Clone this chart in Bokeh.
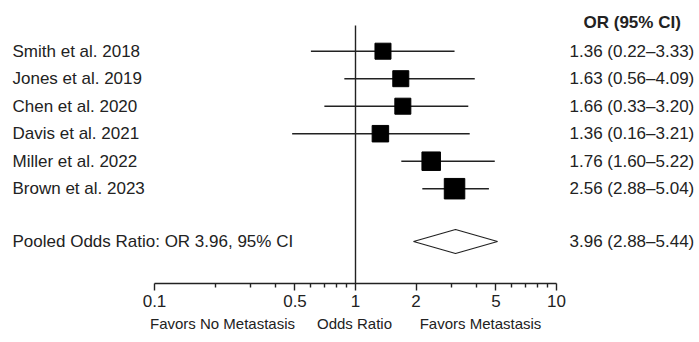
from bokeh.plotting import figure
from bokeh.models import (Range1d, FixedTicker, CustomJSTickFormatter, ColumnDataSource,
                          LogAxis)
from bokeh.embed import file_html
from bokeh.resources import INLINE
from bokeh.core.properties import value

# ---- data ----
studies = ["Smith et al. 2018", "Jones et al. 2019", "Chen et al. 2020",
           "Davis et al. 2021", "Miller et al. 2022", "Brown et al. 2023"]
or_est = [1.37, 1.68, 1.72, 1.33, 2.38, 3.11]
ci_low = [0.60, 0.88, 0.70, 0.484, 1.69, 2.15]
ci_high = [3.11, 3.92, 3.64, 3.70, 4.93, 4.61]
weights = [16, 16, 16, 16.5, 18.5, 20.5]
or_text = ["1.36 (0.22\u20133.33)", "1.63 (0.56\u20134.09)", "1.66 (0.33\u20133.20)",
           "1.36 (0.16\u20133.21)", "1.76 (1.60\u20135.22)", "2.56 (2.88\u20135.04)"]
pooled_label = "Pooled Odds Ratio: OR 3.96, 95% CI"
pooled_est = 3.145
pooled_low = 1.944
pooled_high = 5.09
pooled_text = "3.96 (2.88\u20135.44)"
header_text = "OR (95% CI)"
major_ticks = [0.1, 0.5, 1, 2, 5, 10]
minor_ticks = [0.2, 0.3, 0.4, 0.6, 0.7, 0.8, 0.9, 3, 4, 6, 7, 8, 9]
note_labels = ["Favors No Metastasis", "Odds Ratio", "Favors Metastasis"]

# ---- layout ----
W, H = 699, 342
AXIS_Y = 283      # px of the axis line
PITCH = 27.5      # px between rows
ROW0 = 50.7       # px of first row
DEC = 201.0       # px per decade
ONE_PX = 355.0    # px of OR = 1
y_top = -ROW0 / PITCH
y_bot = y_top + AXIS_Y / PITCH


def px_to_or(px):
    return 10 ** ((px - ONE_PX) / DEC)


def px_to_row(py):
    return (py - ROW0) / PITCH


rows = list(range(len(studies)))
pooled_row = px_to_row(241)
header_row = px_to_row(22)
FONT = value("Liberation Sans")
INK = "#222222"

p = figure(width=W, height=H, x_axis_type="log",
           x_range=Range1d(px_to_or(0), px_to_or(W)),
           y_range=Range1d(y_bot, y_top),
           y_axis_location=None, toolbar_location=None,
           output_backend="svg", min_border=0, min_border_bottom=H - AXIS_Y)
p.outline_line_color = None
p.xgrid.visible = False
p.ygrid.visible = False
p.background_fill_color = "white"
p.border_fill_color = "white"

# reference line at OR = 1
p.segment(x0=[1], y0=[px_to_row(25)], x1=[1], y1=[y_bot], line_color=INK, line_width=1.4)

src = ColumnDataSource(dict(study=studies, est=or_est, lo=ci_low, hi=ci_high,
                            w=weights, txt=or_text, y=rows))
p.segment(x0="lo", y0="y", x1="hi", y1="y", source=src, line_color=INK, line_width=1.6)
p.scatter(x="est", y="y", size="w", marker="square", source=src,
          fill_color="black", line_color="black")

# pooled diamond
h = 12 / PITCH
p.patch(x=[pooled_low, pooled_est, pooled_high, pooled_est],
        y=[pooled_row, pooled_row - h, pooled_row, pooled_row + h],
        fill_color="white", line_color=INK, line_width=1.2)

# texts
lx = px_to_or(12)
vx = px_to_or(569)
hx = px_to_or(583)
p.text(x=[lx] * len(studies), y=rows, text=studies, text_font=FONT,
       text_font_size="17px", text_color=INK, text_baseline="middle")
p.text(x=[vx] * len(studies), y=rows, text=or_text, text_font=FONT,
       text_font_size="17px", text_color=INK, text_baseline="middle")
p.text(x=[hx], y=[header_row], text=[header_text], text_font=FONT,
       text_font_size="17px", text_font_style="bold", text_color=INK,
       text_baseline="middle")
p.text(x=[lx], y=[pooled_row], text=[pooled_label], text_font=FONT,
       text_font_size="17px", text_color=INK, text_baseline="middle")
p.text(x=[vx], y=[pooled_row], text=[pooled_text], text_font=FONT,
       text_font_size="17px", text_color=INK, text_baseline="middle")

# main axis
ax = p.xaxis[0]
ax.ticker = FixedTicker(ticks=major_ticks, minor_ticks=minor_ticks)
ax.formatter = CustomJSTickFormatter(code="return String(tick);")
ax.bounds = (0.1, 10)
ax.axis_line_color = INK
ax.axis_line_width = 1.4
ax.major_tick_line_color = INK
ax.major_tick_line_width = 1.4
ax.minor_tick_line_color = INK
ax.minor_tick_line_width = 1.4
ax.major_tick_in = 0
ax.major_tick_out = 7
ax.minor_tick_in = 0
ax.minor_tick_out = 4
ax.major_label_text_font = "Liberation Sans"
ax.major_label_text_font_size = "17px"
ax.major_label_text_color = INK
ax.major_label_standoff = 4

# second axis carrying the caption texts
note_pos = [px_to_or(222), px_to_or(354), px_to_or(480)]
ax2 = LogAxis(ticker=FixedTicker(ticks=note_pos, minor_ticks=[]),
              formatter=CustomJSTickFormatter(
                  args=dict(pos=note_pos, lab=note_labels),
                  code="const i = pos.findIndex(v => Math.abs(Math.log(v) - Math.log(tick)) < 1e-6);"
                       " return i >= 0 ? lab[i] : '';"))
ax2.axis_line_color = None
ax2.major_tick_line_color = None
ax2.minor_tick_line_color = None
ax2.major_tick_in = 0
ax2.major_tick_out = 0
ax2.major_label_text_font = "Liberation Sans"
ax2.major_label_text_font_size = "15px"
ax2.major_label_text_color = INK
ax2.major_label_standoff = 5
p.add_layout(ax2, "below")

open("out.html", "w").write(file_html(p, INLINE))
